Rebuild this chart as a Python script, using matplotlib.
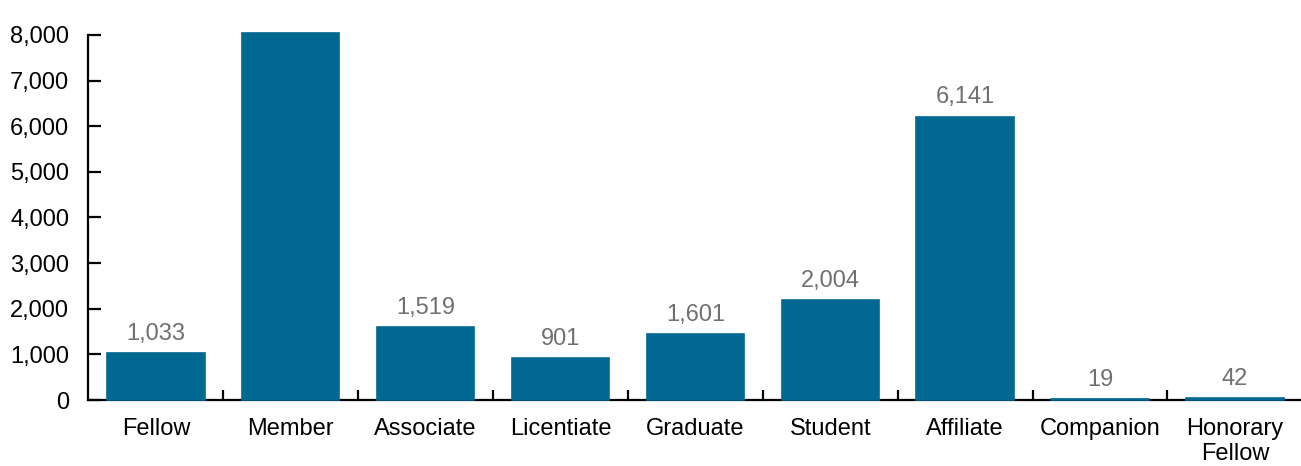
import numpy as np
import matplotlib
matplotlib.use('Agg')
import matplotlib.pyplot as plt
from matplotlib.ticker import FuncFormatter, MultipleLocator

# membership grades
categories = ['Fellow', 'Member', 'Associate', 'Licentiate', 'Graduate',
              'Student', 'Affiliate', 'Companion', 'Honorary\nFellow']
# bar heights as drawn in the picture
heights = [1030, 8050, 1600, 920, 1450, 2195, 6210, 19, 42]
# value labels printed above the bars
labels = [1033, 8002, 1519, 901, 1601, 2004, 6141, 19, 42]

BAR = '#006891'
FS = 17

plt.rcParams['font.family'] = ['Liberation Sans', 'DejaVu Sans']

fig = plt.figure(figsize=(13.01, 4.66), dpi=100)
ax = fig.add_axes([0.068, 0.1416, 0.933, 0.7835])

x = np.arange(len(categories))
bars = ax.bar(x, heights, width=0.722, color=BAR, edgecolor=BAR,
              linewidth=1.2, clip_on=False, zorder=3)

for b, v in zip(bars, labels):
    ax.annotate(f'{v:,}', (b.get_x() + b.get_width() / 2, b.get_height()),
                xytext=(0, 6), textcoords='offset points',
                ha='center', va='bottom', fontsize=FS, color='#707070')

ax.set_xlim(-0.5, len(categories) - 0.5)
ax.set_ylim(0, 8000)
ax.yaxis.set_major_locator(MultipleLocator(1000))
ax.yaxis.set_major_formatter(FuncFormatter(lambda v, _: f'{int(v):,}'))

ax.set_xticks(x)
ax.set_xticklabels(categories, fontsize=FS, linespacing=1.2)
ax.set_xticks(np.arange(0.5, len(categories) - 0.5), minor=True)
ax.tick_params(axis='x', which='major', length=0, pad=13)
ax.tick_params(axis='x', which='minor', direction='in', length=7, width=1.6)
ax.tick_params(axis='y', direction='in', length=9, width=1.6, pad=14,
               labelsize=FS)

for s in ['top', 'right']:
    ax.spines[s].set_visible(False)
ax.spines['left'].set_linewidth(1.6)
ax.spines['bottom'].set_linewidth(1.6)
ax.spines['bottom'].set_zorder(2.5)

fig.savefig('out.png', dpi=100)
